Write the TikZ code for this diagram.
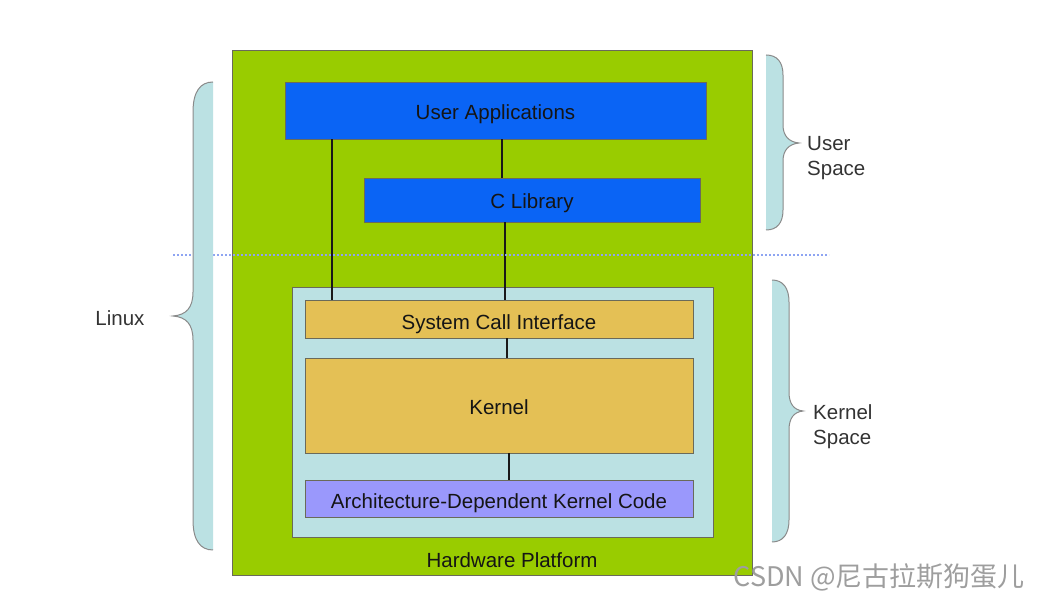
\documentclass[tikz,border=0pt]{standalone}
\usepackage{fontspec}
\setmainfont{Liberation Sans}
\newfontfamily\cjk{Noto Sans CJK SC}
\definecolor{hwgreen}{HTML}{99CC00}
\definecolor{ublue}{HTML}{0A64F5}
\definecolor{kblue}{HTML}{BBE1E3}
\definecolor{kgold}{HTML}{E4C055}
\definecolor{apurple}{HTML}{9A98FC}
\definecolor{edgegray}{HTML}{6A6A5A}
\definecolor{dotblue}{HTML}{8EA4F2}
\definecolor{bracegray}{HTML}{8A8A8A}
\definecolor{txt}{HTML}{151515}
\definecolor{lbl}{HTML}{333333}
\begin{document}
\begin{tikzpicture}[x=1pt,y=-1pt,
  box/.style={draw=edgegray, line width=0.9pt, inner sep=0pt, anchor=center,
    font=\fontsize{20.5}{24}\selectfont, text=txt, text height=18pt, text depth=0pt},
  conn/.style={line width=1.9pt, draw=black!90},
  bracefill/.style={fill=kblue},
  braceline/.style={draw=bracegray, line width=1pt},
  side/.style={font=\fontsize{20.5}{25}\selectfont, text=lbl, align=left, anchor=west, inner sep=0pt}]
\useasboundingbox (0,0) rectangle (1039,601);
% main platform
\node[box, fill=hwgreen, minimum width=520pt, minimum height=525pt] (hw) at (492,312.5) {};
\node[font=\fontsize{20.5}{24}\selectfont, text=txt, inner sep=0pt] (hwlabel) at (512,560) {Hardware Platform};
% kernel area
\node[box, fill=kblue, minimum width=421pt, minimum height=250pt] (ks) at (502.5,412) {};
% user space boxes
\node[box, fill=ublue, minimum width=421pt, minimum height=57pt] (ua) at (495.5,110.5) {User Applications};
\node[box, fill=ublue, minimum width=336pt, minimum height=44pt] (cl) at (532,200) {C Library};
% kernel boxes
\node[box, fill=kgold, minimum width=388pt, minimum height=38pt, text height=21pt] (sci) at (499,319) {System Call Interface};
\node[box, fill=kgold, minimum width=388pt, minimum height=95pt] (kern) at (499,405.5) {Kernel};
\node[box, fill=apurple, minimum width=388pt, minimum height=37pt, text height=20pt] (arch) at (499,498.5) {Architecture-Dependent Kernel Code};
% connector x positions
\coordinate (xa) at (332,0);
\coordinate (xb) at (502,0);
\coordinate (xc) at (505,0);
\coordinate (xd) at (507,0);
\coordinate (xe) at (509,0);
\draw[conn] (ua.south -| xa) -- (sci.north -| xa);
\draw[conn] (ua.south -| xb) -- (cl.north -| xb);
\draw[conn] (cl.south -| xc) -- (sci.north -| xc);
\draw[conn] (sci.south -| xd) -- (kern.north -| xd);
\draw[conn] (kern.south -| xe) -- (arch.north -| xe);
% dotted divider
\coordinate (dl) at (173,255);
\coordinate (dr) at (829,255);
\draw[dotblue, line width=1.7pt, dash pattern=on 1.7pt off 2.3pt] (dl) -- (dr);
% Linux brace (left)
\fill[bracefill] (213,82) .. controls (200,82) and (193,92) .. (193,112) -- (193,292)
  .. controls (193,308) and (186,315) .. (173,316)
  .. controls (186,317) and (193,324) .. (193,340) -- (193,520)
  .. controls (193,540) and (200,550) .. (213,550) -- cycle;
\draw[braceline] (213,82) .. controls (200,82) and (193,92) .. (193,112) -- (193,292)
  .. controls (193,308) and (186,315) .. (173,316)
  .. controls (186,317) and (193,324) .. (193,340) -- (193,520)
  .. controls (193,540) and (200,550) .. (213,550);
\node[font=\fontsize{20.5}{24}\selectfont, text=lbl, inner sep=0pt] (linux) at (120,318) {Linux};
% User Space brace (right)
\fill[bracefill] (766,55) .. controls (777,55) and (783,62) .. (783,75) -- (783,125)
  .. controls (783,136) and (789,142) .. (799,143)
  .. controls (789,144) and (783,150) .. (783,161) -- (783,210)
  .. controls (783,223) and (777,230) .. (766,230) -- cycle;
\draw[braceline] (766,55) .. controls (777,55) and (783,62) .. (783,75) -- (783,125)
  .. controls (783,136) and (789,142) .. (799,143)
  .. controls (789,144) and (783,150) .. (783,161) -- (783,210)
  .. controls (783,223) and (777,230) .. (766,230);
\node[side] (us) at (807,158.5) {User\\Space};
% Kernel Space brace (right)
\fill[bracefill] (772,280) .. controls (783,280) and (789,288) .. (789,302) -- (789,392)
  .. controls (789,404) and (794,410) .. (803,411)
  .. controls (794,412) and (789,418) .. (789,430) -- (789,520)
  .. controls (789,534) and (783,542) .. (772,542) -- cycle;
\draw[braceline] (772,280) .. controls (783,280) and (789,288) .. (789,302) -- (789,392)
  .. controls (789,404) and (794,410) .. (803,411)
  .. controls (794,412) and (789,418) .. (789,430) -- (789,520)
  .. controls (789,534) and (783,542) .. (772,542);
\node[side] (kspc) at (813,426.5) {Kernel\\Space};
% watermark
\node[anchor=east, inner sep=0pt, text=black!38, font=\cjk\fontsize{27}{30}\selectfont] (wm) at (1025,577) {CSDN @尼古拉斯狗蛋儿};
\end{tikzpicture}
\end{document}
